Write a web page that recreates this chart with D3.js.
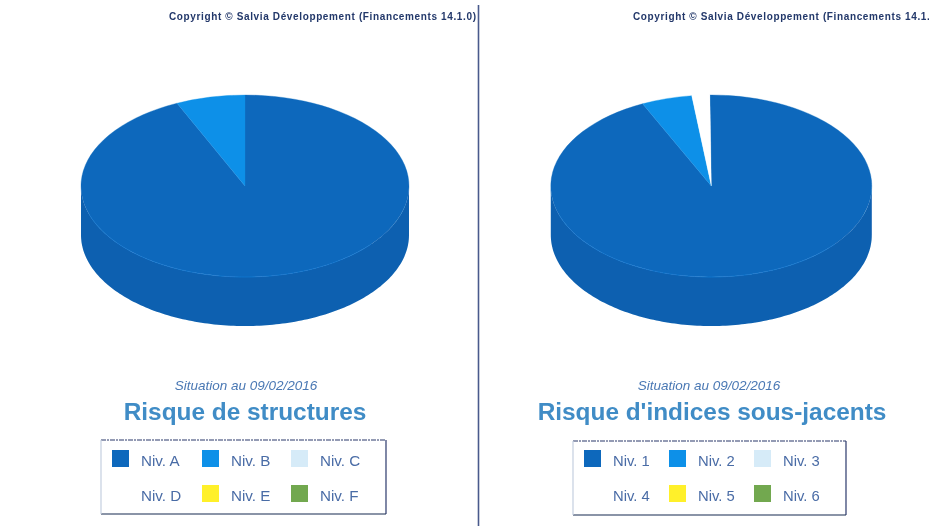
<!DOCTYPE html>
<html><head><meta charset="utf-8">
<script src="https://cdn.jsdelivr.net/npm/d3@7"></script>
<style>html,body{margin:0;background:#fff}svg{display:block}text{font-family:"Liberation Sans",Arial,sans-serif}</style>
</head><body><svg id="c" width="929" height="526"></svg>
<script>
const copyright = ["Copyright © Salvia Développement (Financements 14.1.0)", "Copyright © Salvia Développement (Financements 14.1.0)"];
const situation = "Situation au 09/02/2016";
const titles = ["Risque de structures", "Risque d'indices sous-jacents"];
const labelsLeft = ["Niv. A", "Niv. B", "Niv. C", "Niv. D", "Niv. E", "Niv. F"];
const labelsRight = ["Niv. 1", "Niv. 2", "Niv. 3", "Niv. 4", "Niv. 5", "Niv. 6"];
const valuesLeft = [93.2, 6.8, 0, 0, 0, 0];
const valuesRight = [93.1, 5.1, 0, 1.8, 0, 0];
const colors = ["#0a68bc", "#0a90e8", "#d6ebf8", "#ffffff", "#fff02a", "#72a850"];
const sideColors = ["#0b60b0", "#0a80d0", "#c0d8e8", "#f4f4f4", "#e0d020", "#5f9040"];

const svg = d3.select("#c");
const defs = svg.append("defs");
defs.append("filter").attr("id", "scan").attr("x", "-5%").attr("y", "-5%").attr("width", "110%").attr("height", "110%")
  .append("feGaussianBlur").attr("stdDeviation", 0.45);
const root = svg.append("g").attr("filter", "url(#scan)");

function drawPanel(o) {
  const g = root.append("g");
  const pie = d3.pie().sort(null).value(d => d).startAngle(o.start).endAngle(o.start + 2 * Math.PI);
  const arcs = pie(o.values);
  const rScale = d3.scaleLinear().domain([0, 1]).range([0, o.rx]);
  const k = o.ry / o.rx;
  const pt = (a, dy) => [o.cx + o.rx * Math.sin(a), o.cy - o.ry * Math.cos(a) + dy];
  const line = d3.line();
  arcs.forEach((a, i) => {
    const s = Math.max(a.startAngle, Math.PI / 2), e = Math.min(a.endAngle, Math.PI * 1.5);
    if (e <= s) return;
    const angs = d3.range(s, e, 0.02).concat([e]);
    const top = angs.map(t => pt(t, 0)), bot = angs.map(t => pt(t, o.depth)).reverse();
    g.append("path").attr("d", line(top.concat(bot)) + "Z").attr("fill", sideColors[i]);
  });
  const arc = d3.arc().innerRadius(0).outerRadius(rScale(1));
  g.append("g").attr("transform", `translate(${o.cx},${o.cy}) scale(1,${k})`)
    .selectAll("path").data(arcs).join("path")
    .attr("d", arc).attr("fill", (d, i) => colors[i])
    .attr("stroke", (d, i) => d.value > 0 ? colors[i] : "none").attr("stroke-width", 0.4);
  const rim = d3.range(Math.PI * 0.72, Math.PI * 1.4, 0.02).map(t => pt(t, 0));
  g.append("path").attr("d", line(rim)).attr("fill", "none").attr("stroke", "#1a78d0").attr("stroke-width", 0.8);

  g.append("text").attr("x", o.copyX).attr("y", 20).attr("font-size", 10).attr("font-weight", "bold")
    .attr("fill", "#23386a").attr("textLength", 307).attr("lengthAdjust", "spacing").text(o.copy);
  g.append("text").attr("x", o.subX).attr("y", 390).attr("text-anchor", "middle").attr("font-size", 13.5)
    .attr("font-style", "italic").attr("fill", "#4a78b4").text(situation);
  g.append("text").attr("x", o.titleX).attr("y", 420).attr("text-anchor", "middle").attr("font-size", 24.4)
    .attr("font-weight", "bold").attr("fill", "#3f8cc6").text(o.title);

  const b = o.box;
  const edges = [
    [b.x0, b.y0, b.x1, b.y0, "#2a3a6a", "5 1 2 1"],
    [b.x1, b.y0, b.x1, b.y1, "#2a3a6a", null],
    [b.x0, b.y1, b.x1, b.y1, "#1c2a50", null],
    [b.x0, b.y0, b.x0, b.y1, "#c4cfe0", null]
  ];
  edges.forEach(e => g.append("line").attr("x1", e[0]).attr("y1", e[1]).attr("x2", e[2]).attr("y2", e[3])
    .attr("stroke", e[4]).attr("stroke-width", 1.2).attr("stroke-dasharray", e[5]));
  o.labels.forEach((l, i) => {
    const col = i % 3, row = Math.floor(i / 3);
    g.append("rect").attr("x", o.swX[col]).attr("y", 450 + row * 35).attr("width", 17).attr("height", 17)
      .attr("fill", colors[i]);
    g.append("text").attr("x", o.txtX[col]).attr("y", 466 + row * 35)
      .attr("font-size", o.legendSize).attr("fill", "#4a6ca6").text(l);
  });
}

drawPanel({cx: 245, cy: 186, rx: 164, ry: 91, depth: 49, start: 0, values: valuesLeft, labels: labelsLeft,
  title: titles[0], copy: copyright[0], copyX: 169, subX: 246, titleX: 245, legendSize: 15.2,
  box: {x0: 101, y0: 440, x1: 386, y1: 514}, swX: [112, 202, 291], txtX: [141, 231, 320]});
drawPanel({cx: 711.3, cy: 186, rx: 160.5, ry: 91, depth: 49, start: -0.009, values: valuesRight, labels: labelsRight,
  title: titles[1], copy: copyright[1], copyX: 633, subX: 709, titleX: 712, legendSize: 14.8,
  box: {x0: 573, y0: 441, x1: 846, y1: 515}, swX: [584, 669, 754], txtX: [613, 698, 783]});

root.append("line").attr("x1", 478.5).attr("x2", 478.5).attr("y1", 5).attr("y2", 526)
  .attr("stroke", "#4a5a8c").attr("stroke-width", 1.6);
</script></body></html>
